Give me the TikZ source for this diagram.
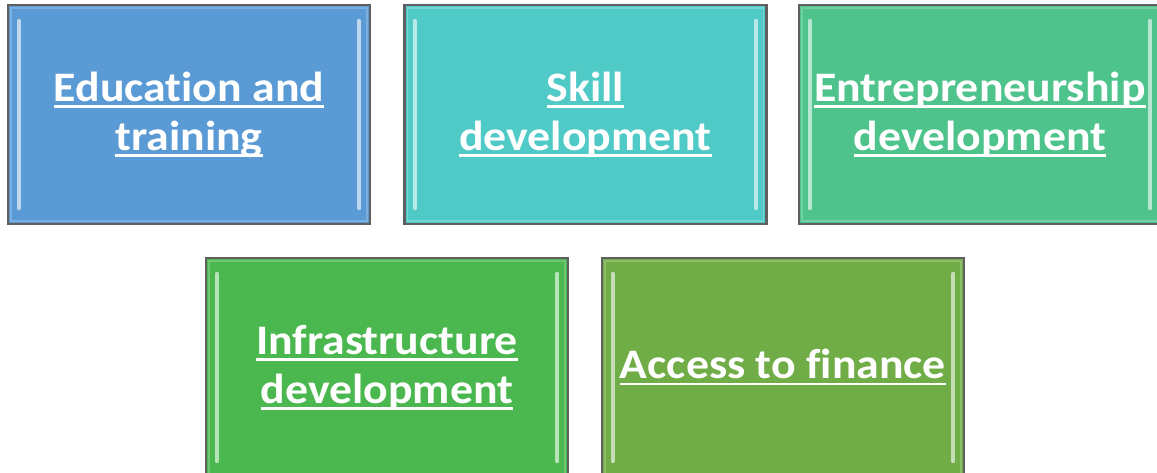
\documentclass[tikz,border=0pt]{standalone}
\usepackage{graphicx}
\usepackage{fontspec}
\setmainfont{Carlito}[Ligatures=NoCommon]
\definecolor{cEdu}{HTML}{5B9BD5}
\definecolor{cSkill}{HTML}{50CAC7}
\definecolor{cEnt}{HTML}{4EC48C}
\definecolor{cInf}{HTML}{4AB84F}
\definecolor{cAcc}{HTML}{70AD47}
\definecolor{cEdge}{HTML}{5F5F5F}
\newcommand\myul[1]{\scalebox{1.09}[1]{\setbox0\hbox{#1}\rlap{\rule[-6.5pt]{\wd0}{2.6pt}}\box0}}
\tikzset{
  card/.style={draw=cEdge, line width=2.4pt, fill=#1, minimum width=362pt, minimum height=219pt,
    inner sep=0pt, align=center, text=white,
    font=\fontsize{42}{49}\selectfont\bfseries},
  glint/.style={line width=4pt, line cap=round, draw=#1!40!white},
}
\begin{document}
\begin{tikzpicture}[x=1pt,y=1pt]
\useasboundingbox (0,0) rectangle (1157,-472);
\clip (0,0) rectangle (1157,-472);
\node[card=cEdu] (edu) at (189,-114.5) {\myul{Education and}\\\myul{training}};
\node[card=cSkill] (skill) at (585.5,-114.5) {\myul{Skill}\\\myul{development}};
\node[card=cEnt] (ent) at (980,-114.5) {\myul{Entrepreneurship}\\\myul{development}};
\node[card=cInf] (inf) at (387,-367.5) {\myul{Infrastructure}\\\myul{development}};
\node[card=cAcc] (acc) at (783,-367.5) {\myul{Access to finance}};
\foreach \n/\c in {edu/cEdu,skill/cSkill,ent/cEnt,inf/cInf,acc/cAcc}{
  \draw[glint=\c] ([shift={(12,-17)}]\n.north west) -- ([shift={(12,17)}]\n.south west);
  \draw[glint=\c] ([shift={(-12,-17)}]\n.north east) -- ([shift={(-12,17)}]\n.south east);
  \draw[draw=\c!80!white, line width=1.5pt] ([shift={(4,-4)}]\n.north west) rectangle ([shift={(-4,4)}]\n.south east);
}
\end{tikzpicture}
\end{document}
